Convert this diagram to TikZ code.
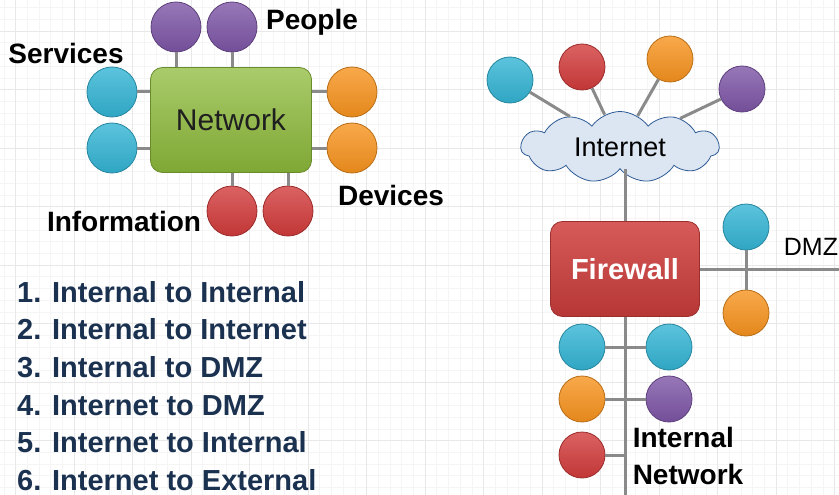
\documentclass[tikz,border=0pt]{standalone}
\usepackage{fontspec}
\setmainfont{Liberation Sans}
\usetikzlibrary{shapes.symbols, positioning}

\definecolor{ballcyan}{HTML}{33B4D4}
\definecolor{ballpurple}{HTML}{7D55A6}
\definecolor{ballorange}{HTML}{F7931E}
\definecolor{ballred}{HTML}{D23B3B}
\definecolor{netgreen}{HTML}{8DBA3A}
\definecolor{fwred}{HTML}{CF3E3C}
\definecolor{cloudfill}{HTML}{DCE6F2}
\definecolor{cloudline}{HTML}{2E5B96}
\definecolor{linkgray}{HTML}{8A8A8A}
\definecolor{listnavy}{HTML}{1B3150}

\begin{document}
\begin{tikzpicture}[x=1pt, y=-1pt,
        ball/.style={circle, draw=#1!75!black, line width=0.8pt, top color=#1!80!white, bottom color=#1!92!black, minimum size=50pt, inner sep=0pt},
        smallball/.style={ball=#1, minimum size=46pt},
        link/.style={draw=linkgray, line width=3pt},
        label/.style={font=\fontsize{28}{30}\selectfont\bfseries},
        minorgrid/.style={draw=black!4, line width=0.5pt},
        majorgrid/.style={draw=black!9, line width=0.8pt}
    ]
    \useasboundingbox (0,0) rectangle (839,495);
    % graph paper
    \foreach \i in {0,...,72} \draw[minorgrid] ({3.8+11.7*\i},0) -- ++(0,495);
    \foreach \i in {0,...,42} \draw[minorgrid] (0,{7.6+11.7*\i}) -- ++(839,0);
    \foreach \i in {0,...,14} \draw[majorgrid] ({15.5+58.5*\i},0) -- ++(0,495);
    \foreach \i in {0,...,8} \draw[majorgrid] (0,{31+58.5*\i}) -- ++(839,0);

    % left: network and its parts
    \node[rectangle, rounded corners=12pt, draw=netgreen!75!black, line width=0.8pt, top color=netgreen!75!white, bottom color=netgreen!90!black, minimum width=161pt, minimum height=105pt, font=\fontsize{30}{32}\selectfont, text=black!88] (network) at (231,120) {Network};
    \node[ball=ballpurple] (people1) at (176,27) {};
    \node[ball=ballpurple] (people2) at (232,27) {};
    \node[ball=ballcyan] (services1) at (112,92) {};
    \node[ball=ballcyan] (services2) at (112,148) {};
    \node[ball=ballorange] (devices1) at (352,92) {};
    \node[ball=ballorange] (devices2) at (352,148) {};
    \node[ball=ballred] (info1) at (232,211) {};
    \node[ball=ballred] (info2) at (288,211) {};
    \draw[link] (people1) -- (people1 |- network.north);
    \draw[link] (people2) -- (people2 |- network.north);
    \draw[link] (services1) -- (services1 -| network.west);
    \draw[link] (services2) -- (services2 -| network.west);
    \draw[link] (devices1) -- (devices1 -| network.east);
    \draw[link] (devices2) -- (devices2 -| network.east);
    \draw[link] (info1) -- (info1 |- network.south);
    \draw[link] (info2) -- (info2 |- network.south);
    \node[label] (people_label) at (312,22) {People};
    \node[label] (services_label) at (66,53) {Services};
    \node[label] (devices_label) at (391,195) {Devices};
    \node[label] (info_label) at (124,221) {Information};

    % flow list
    \node[label, text=listnavy, align=left, anchor=west, font=\fontsize{29}{37.6}\selectfont\bfseries, inner sep=0pt] (flows) at (17,386) {1. Internal to Internal\\2. Internal to Internet\\3. Internal to DMZ\\4. Internet to DMZ\\5. Internet to Internal\\6. Internet to External};

    % right: internet, firewall, DMZ, internal network
    \node[cloud, cloud puffs=11, cloud puff arc=110, cloud ignores aspect, draw=cloudline, line width=0.8pt, fill=cloudfill, minimum width=198pt, minimum height=71pt, font=\fontsize{27}{30}\selectfont] (internet) at (620,147) {Internet};
    \node[smallball=ballcyan] (web1) at (510,80) {};
    \node[smallball=ballred] (web2) at (582,67) {};
    \node[smallball=ballorange] (web3) at (670,59) {};
    \node[smallball=ballpurple] (web4) at (742,89) {};
    \foreach \w in {web1,web2,web3,web4} \draw[link] (\w) -- (internet);

    \node[rectangle, rounded corners=12pt, draw=fwred!75!black, line width=0.8pt, top color=fwred!85!white, bottom color=fwred!88!black, minimum width=149pt, minimum height=95pt, text=white, font=\fontsize{29}{32}\selectfont\bfseries] (firewall) at (625,269) {Firewall};
    \draw[link] (firewall.north) -- (firewall.north |- internet.south);

    \coordinate (dmz_end) at (839,269);
    \node[smallball=ballcyan] (dmz1) at (746,227) {};
    \node[smallball=ballorange] (dmz2) at (746,313) {};
    \draw[link] (firewall.east) -- (dmz_end);
    \draw[link] (dmz1) -- (dmz2);
    \node[font=\fontsize{25}{28}\selectfont] (dmz_label) at (811,247) {DMZ};

    \coordinate (lan_end) at (625,495);
    \node[smallball=ballcyan] (lan1) at (582,347) {};
    \node[smallball=ballcyan] (lan2) at (669,347) {};
    \node[smallball=ballorange] (lan3) at (582,399) {};
    \node[smallball=ballpurple] (lan4) at (669,399) {};
    \node[smallball=ballred] (lan5) at (582,455) {};
    \draw[link] (firewall.south) -- (lan_end);
    \draw[link] (lan1) -- (lan2);
    \draw[link] (lan3) -- (lan4);
    \draw[link] (lan5) -- (lan5 -| lan_end);
    \node[label, align=left, font=\fontsize{28}{37}\selectfont\bfseries] (lan_label) at (688,456) {Internal\\Network};
\end{tikzpicture}
\end{document}
